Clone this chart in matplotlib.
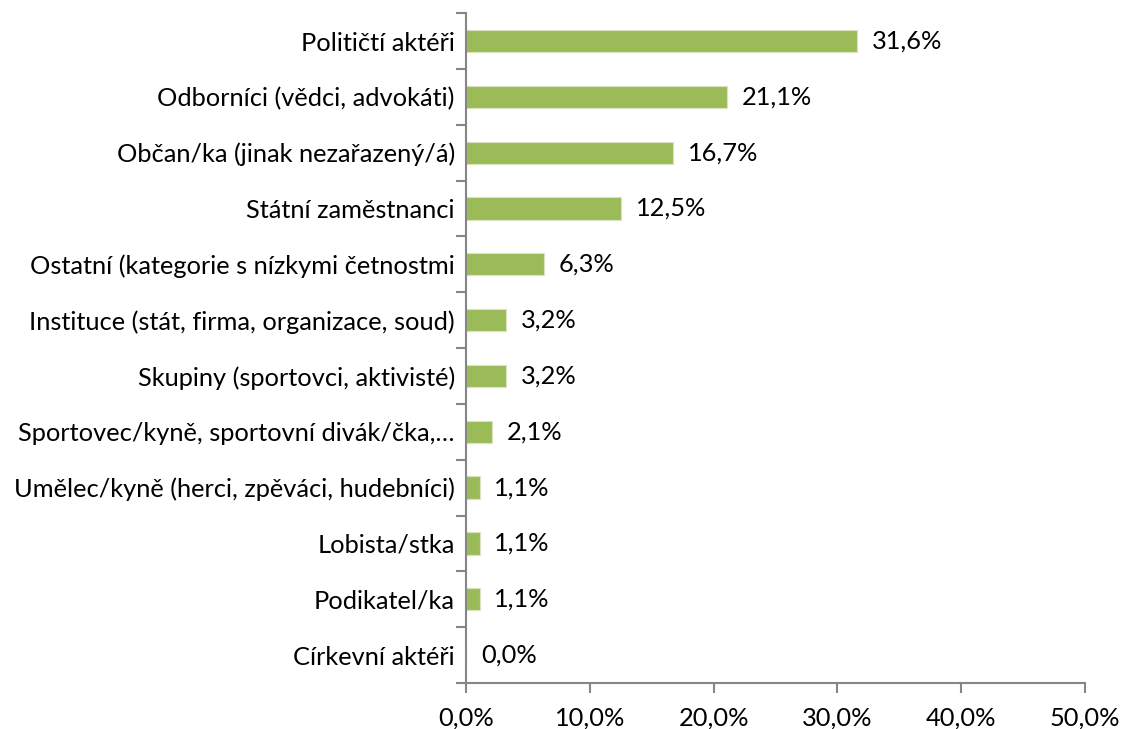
import matplotlib.pyplot as plt
from matplotlib.ticker import FuncFormatter, FixedLocator
import numpy as np

categories = [
    'Političtí aktéři',
    'Odborníci (vědci, advokáti)',
    'Občan/ka (jinak nezařazený/á)',
    'Státní zaměstnanci',
    'Ostatní (kategorie s nízkymi četnostmi',
    'Instituce (stát, firma, organizace, soud)',
    'Skupiny (sportovci, aktivisté)',
    'Sportovec/kyně, sportovní divák/čka,…',
    'Umělec/kyně (herci, zpěváci, hudebníci)',
    'Lobista/stka',
    'Podikatel/ka',
    'Církevní aktéři',
]
values = [31.6, 21.1, 16.7, 12.5, 6.3, 3.2, 3.2, 2.1, 1.1, 1.1, 1.1, 0.0]
x_ticks = [0, 10, 20, 30, 40, 50]

plt.rcParams['font.family'] = ['Lato', 'DejaVu Sans']
FS = 18.3

fig = plt.figure(figsize=(11.22, 7.29), dpi=100)
ax = fig.add_axes([0.4153, 0.0631, 0.9670 - 0.4153, 0.982 - 0.0631])

y = np.arange(len(categories))
ax.barh(y, values, height=0.4, color='#9BBB59', edgecolor='#D7E4BD', linewidth=0.8)

for yi, v in zip(y, values):
    ax.text(v + 1.2, yi, f'{v:.1f}%'.replace('.', ','), va='center', ha='left', fontsize=FS)

ax.set_xlim(0, 50)
ax.set_ylim(len(categories) - 0.5, -0.5)
ax.set_yticks(y)
ax.set_yticklabels(categories, fontsize=FS)
ax.yaxis.set_minor_locator(FixedLocator(np.arange(-0.5, len(categories), 1)))
ax.tick_params(axis='y', which='major', length=0, pad=8)
ax.tick_params(axis='y', which='minor', length=7, width=1.5, color='#868686')

ax.set_xticks(x_ticks)
ax.xaxis.set_major_formatter(FuncFormatter(lambda v, p: f'{v:.1f}%'.replace('.', ',')))
ax.tick_params(axis='x', length=7, width=1.5, color='#868686', labelsize=FS, pad=10)

for s in ['top', 'right']:
    ax.spines[s].set_visible(False)
for s in ['left', 'bottom']:
    ax.spines[s].set_color('#868686')
    ax.spines[s].set_linewidth(1.5)

fig.savefig('out.png', dpi=100)
